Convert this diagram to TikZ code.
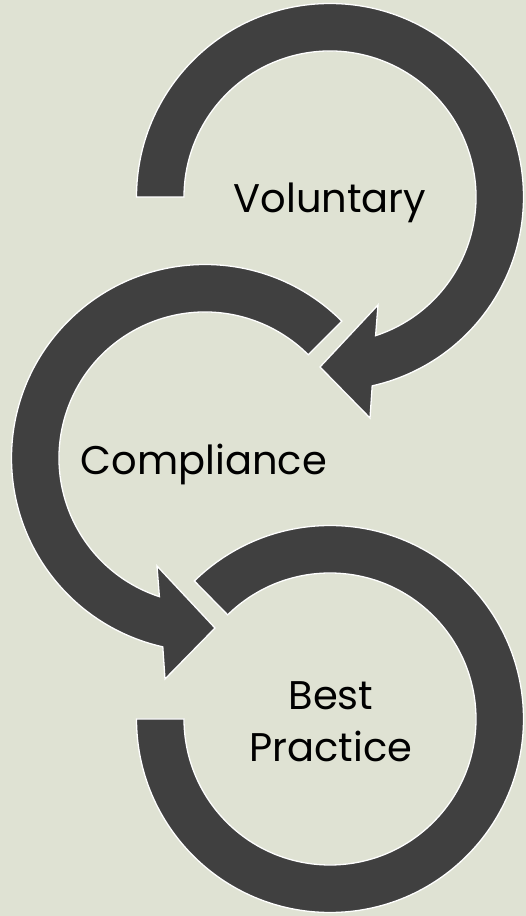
\documentclass[tikz,border=0pt]{standalone}
\usepackage{fontspec}
\setmainfont{Poppins}
\definecolor{bgc}{RGB}{223,226,211}
\definecolor{arc}{RGB}{64,64,64}
\tikzset{
  cyclearrow/.style={fill=arc, draw=white, line width=1.3pt, line join=miter},
  lbl/.style={anchor=base, inner sep=0pt, font=\fontsize{40}{52}\selectfont, text=black, align=center}
}
\begin{document}
\begin{tikzpicture}[x=1pt,y=1pt]
\def\Ro{193.5pt}
\def\Ri{146pt}
\fill[bgc] (0,0) rectangle (526,916);
\useasboundingbox (0,0) rectangle (526,916);
\coordinate (c1) at (330,719);
\coordinate (c2) at (205,458);
\coordinate (c3) at (330,197);
% arrow 1 (Voluntary), clockwise
\draw[cyclearrow] ([shift={(180:\Ro)}]c1) arc[start angle=180, end angle=-77.4, radius=\Ro]
  -- ([shift={(40,-221)}]c1) -- ([shift={(-10,-170)}]c1) -- ([shift={(48,-108)}]c1)
  -- ([shift={(-71.8:\Ri)}]c1) arc[start angle=-71.8, end angle=180, radius=\Ri] -- cycle;
% arrow 2 (Compliance), counterclockwise
\draw[cyclearrow] ([shift={(45:\Ro)}]c2) arc[start angle=45, end angle=257.4, radius=\Ro]
  -- ([shift={(-40,-221)}]c2) -- ([shift={(10,-170)}]c2) -- ([shift={(-48,-108)}]c2)
  -- ([shift={(251.8:\Ri)}]c2) arc[start angle=251.8, end angle=45, radius=\Ri] -- cycle;
% ring 3 (Best Practice)
\draw[cyclearrow] ([shift={(180:\Ro)}]c3) arc[start angle=180, end angle=494.5, radius=\Ro]
  -- ([shift={(494.5:\Ri)}]c3) arc[start angle=494.5, end angle=180, radius=\Ri] -- cycle;
\node[lbl] (vol) at (330,703) {Voluntary};
\node[lbl] (comp) at (204,441) {Compliance};
\node[lbl] (best) at (331,206) {Best};
\node[lbl] (prac) at (331,154) {Practice};
\end{tikzpicture}
\end{document}
